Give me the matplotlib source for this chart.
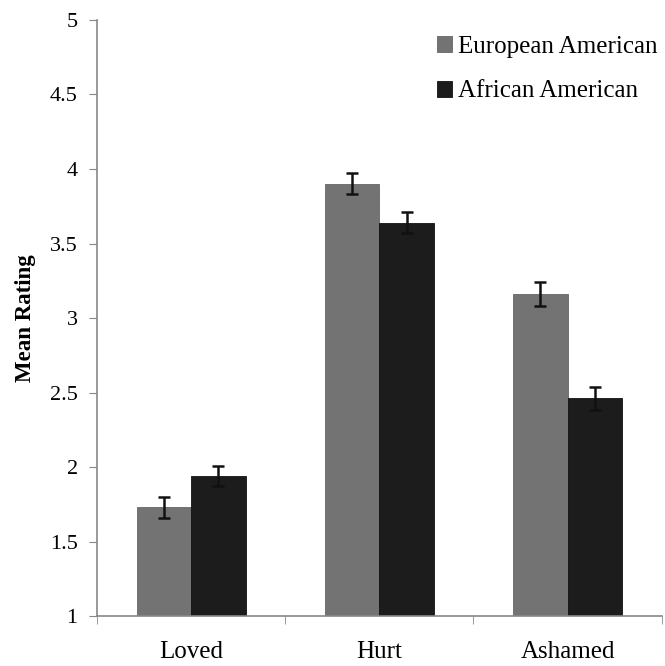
import matplotlib
matplotlib.use("Agg")
import matplotlib.pyplot as plt
import numpy as np

categories = ["Loved", "Hurt", "Ashamed"]
series_names = ["European American", "African American"]
european = [1.73, 3.90, 3.16]
african = [1.94, 3.64, 2.46]
european_err = [0.07, 0.07, 0.08]
african_err = [0.07, 0.07, 0.08]
yticks = [1, 1.5, 2, 2.5, 3, 3.5, 4, 4.5, 5]
ytick_labels = ["1", "1.5", "2", "2.5", "3", "3.5", "4", "4.5", "5"]

plt.rcParams['font.family'] = ['Liberation Serif', 'DejaVu Serif']

fig = plt.figure(figsize=(6.65, 6.66), dpi=100)
ax = fig.add_axes([0.146, 0.075, 0.849, 0.895])

x = np.arange(len(categories))
w = 0.29
colors = ["#737373", "#1c1c1c"]
ekw = dict(ecolor="#111111", elinewidth=1.8, capsize=4.5, capthick=1.8)
ax.bar(x - w/2, [v - 1 for v in european], w, bottom=1, color=colors[0],
       edgecolor="#666666", linewidth=0.6, label=series_names[0],
       yerr=european_err, error_kw=ekw)
ax.bar(x + w/2, [v - 1 for v in african], w, bottom=1, color=colors[1],
       edgecolor="#111111", linewidth=0.6, label=series_names[1],
       yerr=african_err, error_kw=ekw)

ax.set_xlim(-0.5, len(categories) - 0.5)
ax.set_ylim(1, 5)
ax.set_yticks(yticks)
ax.set_yticklabels(ytick_labels, fontsize=16)
ax.set_xticks(x)
ax.set_xticklabels(categories, fontsize=18)
ax.set_xticks(np.arange(len(categories) + 1) - 0.5, minor=True)
ax.tick_params(axis='x', which='major', length=0, pad=18)
ax.tick_params(axis='x', which='minor', length=6, color="#888888", direction='out')
ax.tick_params(axis='y', length=6, color="#888888", direction='out', pad=8)

for s in ["top", "right"]:
    ax.spines[s].set_visible(False)
for s in ["left", "bottom"]:
    ax.spines[s].set_color("#888888")
    ax.spines[s].set_linewidth(1.2)

ax.set_ylabel("Mean Rating", fontsize=16.5, fontweight='bold', labelpad=10)

ax.legend(loc='upper right', bbox_to_anchor=(1.01, 0.99), frameon=False, fontsize=18,
          handlelength=0.6, handleheight=0.6, handletextpad=0.25, labelspacing=0.9,
          borderaxespad=0)

fig.savefig("out.png", dpi=100)
